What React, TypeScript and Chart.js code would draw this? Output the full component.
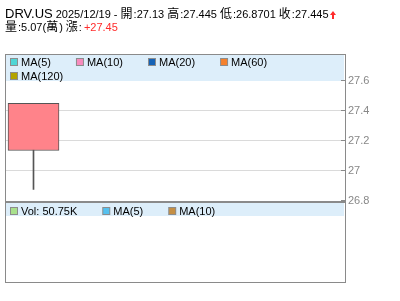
import { useEffect, useRef } from 'react';
import { Chart, registerables } from 'chart.js';

Chart.register(...registerables);

// Daily quote
const ticker = 'DRV.US';
const dates = ['2025/12/19'];
const opens = [27.13];
const highs = [27.445];
const lows = [26.8701];
const closes = [27.445];
const volumes = [50750];
const changes = [27.45];

// Price axis
const priceTicks = [26.8, 27, 27.2, 27.4, 27.6];
const visibleSlots = 6;

// Legends
const maLabels = ['MA(5)', 'MA(10)', 'MA(20)', 'MA(60)', 'MA(120)'];
const maColors = ['#4fd6d6', '#f78bbd', '#1562b5', '#f5812d', '#b3a300'];
const volLabels = ['MA(5)', 'MA(10)'];
const volColors = ['#a8e08c', '#55c1ef', '#c48f45'];

const LATIN = '"Liberation Sans", Arial, sans-serif';
const CJK = '"Noto Sans CJK TC", "Noto Sans CJK SC", sans-serif';
const RISE = '#ff2b2b';
const FRAME = '#8a8a8a';
const BAND = '#ddeefa';

const isCjk = (c: string) => /[\u2e80-\u9fff\uf900-\ufaff]/.test(c);

// draws a string, switching fonts between Latin and CJK runs; returns end x
function drawMixed(ctx: CanvasRenderingContext2D, text: string, x: number, y: number, color: string, size = 11) {
  let i = 0;
  ctx.fillStyle = color;
  while (i < text.length) {
    const cjk = isCjk(text[i]);
    let j = i;
    while (j < text.length && isCjk(text[j]) === cjk) j++;
    const run = text.slice(i, j);
    ctx.font = cjk ? `${size + 1}px ${CJK}` : `${size}px ${LATIN}`;
    ctx.fillText(run, x, y);
    x += ctx.measureText(run).width + (cjk ? run.length : 0);
    i = j;
  }
  return x;
}

function drawLegend(
  ctx: CanvasRenderingContext2D,
  labels: string[],
  colors: string[],
  x0: number,
  top: number,
  limit: number,
  rowH: number
) {
  ctx.font = `11px ${LATIN}`;
  let x = x0;
  let y = top;
  labels.forEach((label, i) => {
    const w = ctx.measureText(label).width;
    if (x > x0 && x + 11 + w > limit) {
      x = x0;
      y += rowH;
    }
    ctx.fillStyle = '#8c8c8c';
    ctx.fillRect(x, y, 8, 8);
    ctx.fillStyle = colors[i];
    ctx.fillRect(x + 1, y + 1, 6, 6);
    ctx.fillStyle = '#000';
    ctx.fillText(label, x + 11, y + 8);
    x += 11 + w + 25;
  });
}

const panelPlugin = {
  id: 'quotePanels',
  afterDraw(chart: any) {
    const ctx: CanvasRenderingContext2D = chart.ctx;
    const yScale = chart.scales.y;
    ctx.save();
    ctx.textBaseline = 'alphabetic';
    ctx.textAlign = 'left';

    // header lines
    ctx.font = `13px ${LATIN}`;
    ctx.fillStyle = '#000';
    ctx.fillText(ticker, 5, 18);
    let x = 5 + ctx.measureText(ticker).width;
    const line1 = ` ${dates[0]} - 開:${opens[0]} 高:${highs[0]} 低:${lows[0]} 收:${closes[0]}`;
    x = drawMixed(ctx, line1, x, 18, '#000');
    if (closes[0] >= opens[0]) {
      const ax = Math.round(x) + 1;
      ctx.fillStyle = RISE;
      ctx.beginPath();
      ctx.moveTo(ax + 3, 11);
      ctx.lineTo(ax + 6, 15);
      ctx.lineTo(ax, 15);
      ctx.closePath();
      ctx.fill();
      ctx.fillRect(ax + 2, 15, 2, 4);
    }
    const wan = (Math.floor(volumes[0] / 100) / 100).toFixed(2);
    ctx.font = `11px ${LATIN}`;
    x = drawMixed(ctx, `量:${wan}(萬) 漲:`, 5, 31, '#000');
    drawMixed(ctx, `+${changes[0].toFixed(2)}`, x + 2, 31, RISE);

    // legend bands
    ctx.fillStyle = BAND;
    ctx.fillRect(6, 55, 338, 26);
    ctx.fillRect(6, 203, 338, 13);

    // frame and panel divider
    ctx.fillStyle = FRAME;
    ctx.fillRect(5, 54, 341, 1);
    ctx.fillRect(5, 282, 341, 1);
    ctx.fillRect(5, 54, 1, 229);
    ctx.fillRect(345, 54, 1, 229);
    ctx.fillRect(5, 201, 341, 2);

    // tick marks on the inner side of the price axis
    priceTicks.forEach((v) => {
      const py = Math.round(yScale.getPixelForValue(v));
      ctx.fillRect(341, py, 4, 1);
    });

    drawLegend(ctx, maLabels, maColors, 10, 58, 340, 14);
    const volText = `Vol: ${(volumes[0] / 1000).toFixed(2)}K`;
    drawLegend(ctx, [volText, ...volLabels], volColors, 10, 207, 340, 14);
    ctx.restore();
  },
};

export default function App() {
  const canvasRef = useRef<HTMLCanvasElement | null>(null);

  useEffect(() => {
    const canvas = canvasRef.current;
    if (!canvas) return;
    const body = dates.map((_, i) => ({ x: i, y: [opens[i], closes[i]] }));
    const wick = dates.map((_, i) => ({ x: i, y: [lows[i], highs[i]] }));

    const chart = new Chart(canvas, {
      type: 'bar',
      data: {
        datasets: [
          {
            label: 'K',
            data: body as any,
            backgroundColor: '#ff838a',
            borderColor: '#555555',
            borderWidth: 1,
            borderSkipped: false,
            barThickness: 51,
            grouped: false,
          },
          {
            label: 'wick',
            data: wick as any,
            backgroundColor: '#555555',
            borderWidth: 0,
            barThickness: 1,
            grouped: false,
          },
        ],
      },
      options: {
        responsive: false,
        animation: false,
        devicePixelRatio: 1,
        layout: { padding: { left: 5.18, top: 80, right: 0, bottom: 101 } },
        plugins: { legend: { display: false }, tooltip: { enabled: false } },
        scales: {
          x: { type: 'linear', min: -0.5, max: visibleSlots - 0.5, offset: false, display: false },
          y: {
            position: 'right',
            min: priceTicks[0],
            max: priceTicks[priceTicks.length - 1],
            afterBuildTicks: (s: any) => {
              s.ticks = priceTicks.map((value) => ({ value }));
            },
            afterFit: (s: any) => {
              s.width = 55;
            },
            ticks: {
              color: '#888888',
              padding: 3,
              labelOffset: 1,
              font: { family: LATIN, size: 11 },
              callback: (v: any) => String(v),
            },
            grid: {
              drawTicks: false,
              color: (c: any) => (c.tick && c.tick.value === priceTicks[0] ? 'rgba(0,0,0,0)' : '#dadada'),
            },
            border: { display: false },
          },
        },
      },
      plugins: [panelPlugin],
    });
    return () => chart.destroy();
  }, []);

  return (
    <div style={{ position: 'absolute', left: 0, top: 0, width: 400, height: 301, background: '#fff' }}>
      <canvas ref={canvasRef} width={400} height={301} style={{ display: 'block' }} />
    </div>
  );
}
